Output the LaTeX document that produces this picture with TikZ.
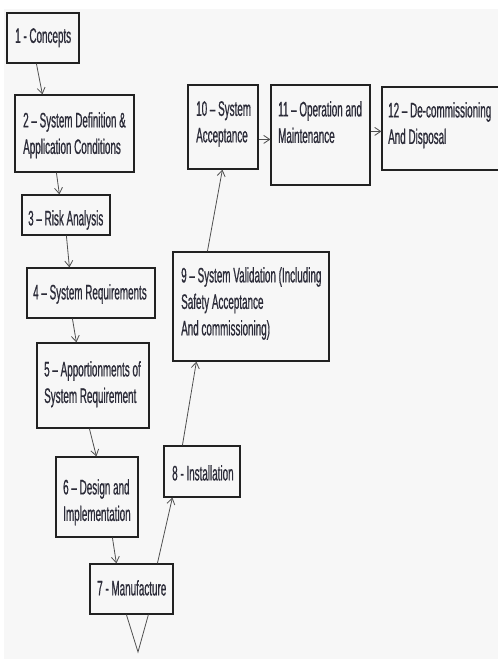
\documentclass[tikz,border=0pt]{standalone}
\usepackage{fontspec}
\setmainfont[FakeStretch=0.47,FakeBold=0.7]{Liberation Sans}
\usetikzlibrary{arrows.meta}
\definecolor{pagebg}{HTML}{F7F7F7}
\definecolor{inktext}{rgb}{0.17,0.17,0.22}
\definecolor{boxline}{HTML}{222222}
\definecolor{flowline}{HTML}{505050}
\begin{document}
\begin{tikzpicture}[x=1pt,y=-1pt,
  stage/.style={draw=boxline,line width=1.2pt,rectangle,inner sep=0pt},
  caption/.style={anchor=north west,inner sep=0pt,align=left,text=inktext,
    font=\fontsize{21}{26.5}\selectfont},
  flow/.style={draw=flowline,line width=0.8pt,-{Straight Barb[length=6pt,width=8pt]}},
  tail/.style={draw=flowline,line width=0.8pt}]
  % canvas
  \useasboundingbox (0,0) rectangle (498,659);
  \fill[white] (0,0) rectangle (498,659);
  \fill[pagebg] (4,9) rectangle (498,659);

  % stage boxes
  \node[stage,minimum width=72pt,minimum height=50pt]  (b1)  at (43,38) {};
  \node[stage,minimum width=119pt,minimum height=77pt] (b2)  at (74.5,133.5) {};
  \node[stage,minimum width=88pt,minimum height=40pt]  (b3)  at (66,215) {};
  \node[stage,minimum width=128pt,minimum height=50pt] (b4)  at (91,293) {};
  \node[stage,minimum width=112pt,minimum height=85pt] (b5)  at (93,385.5) {};
  \node[stage,minimum width=82pt,minimum height=80pt]  (b6)  at (97,497) {};
  \node[stage,minimum width=83pt,minimum height=50pt]  (b7)  at (131.5,589) {};
  \node[stage,minimum width=76pt,minimum height=51pt]  (b8)  at (202,471.5) {};
  \node[stage,minimum width=156pt,minimum height=109pt] (b9) at (251,306.5) {};
  \node[stage,minimum width=70pt,minimum height=84pt]  (b10) at (223,127) {};
  \node[stage,minimum width=99pt,minimum height=100pt] (b11) at (320.5,135) {};
  \node[stage,minimum width=128pt,minimum height=83pt] (b12) at (446,128.5) {};

  % stage titles
  \node[caption] (t1)  at (15,28)   {1 - Concepts};
  \node[caption] (t2)  at (23,112)  {2 – System Definition \&\\Application Conditions};
  \node[caption] (t3)  at (28,210)  {3 – Risk Analysis};
  \node[caption] (t4)  at (33,284)  {4 – System Requirements};
  \node[caption] (t5)  at (44,361)  {5 – Apportionments of\\System Requirement};
  \node[caption] (t6)  at (63,479)  {6 – Design and\\Implementation};
  \node[caption] (t7)  at (97,580)  {7 - Manufacture};
  \node[caption] (t8)  at (172,465) {8 - Installation};
  \node[caption] (t9)  at (181,267) {9 – System Validation (Including\\Safety Acceptance\\And commissioning)};
  \node[caption] (t10) at (196,101) {10 – System\\Acceptance};
  \node[caption] (t11) at (278,101) {11 – Operation and\\Maintenance};
  \node[caption] (t12) at (388,102) {12 – De-commissioning\\And Disposal};

  % descending branch
  \draw[flow] ([xshift=30pt]b1.south west) -- ([xshift=28pt]b2.north west);
  \draw[flow] ([xshift=42pt]b2.south west) -- ([xshift=38pt]b3.north west);
  \draw[flow] ([xshift=45pt]b3.south west) -- ([xshift=43pt]b4.north west);
  \draw[flow] ([xshift=46pt]b4.south west) -- ([xshift=40pt]b5.north west);
  \draw[flow] ([xshift=53pt]b5.south west) -- ([xshift=41pt]b6.north west);
  \draw[flow] ([xshift=57pt]b6.south west) -- ([xshift=27pt]b7.north west);

  % ascending branch
  \draw[flow] ([xshift=68pt]b7.north west) -- ([xshift=9pt]b8.south west);
  \draw[flow] ([xshift=19pt]b8.north west) -- ([xshift=24pt]b9.south west);
  \draw[flow] ([xshift=35pt]b9.north west) -- ([xshift=35pt]b10.south west);

  % horizontal run
  \draw[flow] ([yshift=-55pt]b10.north east) -- ([yshift=-55pt]b11.north west);
  \draw[flow] ([yshift=-47pt]b11.north east) -- ([yshift=-45pt]b12.north west);

  % vee under the manufacture box
  \coordinate (vtip) at (138,652);
  \draw[tail] ([xshift=37pt]b7.south west) -- (vtip) -- ([xshift=59pt]b7.south west);
\end{tikzpicture}
\end{document}
